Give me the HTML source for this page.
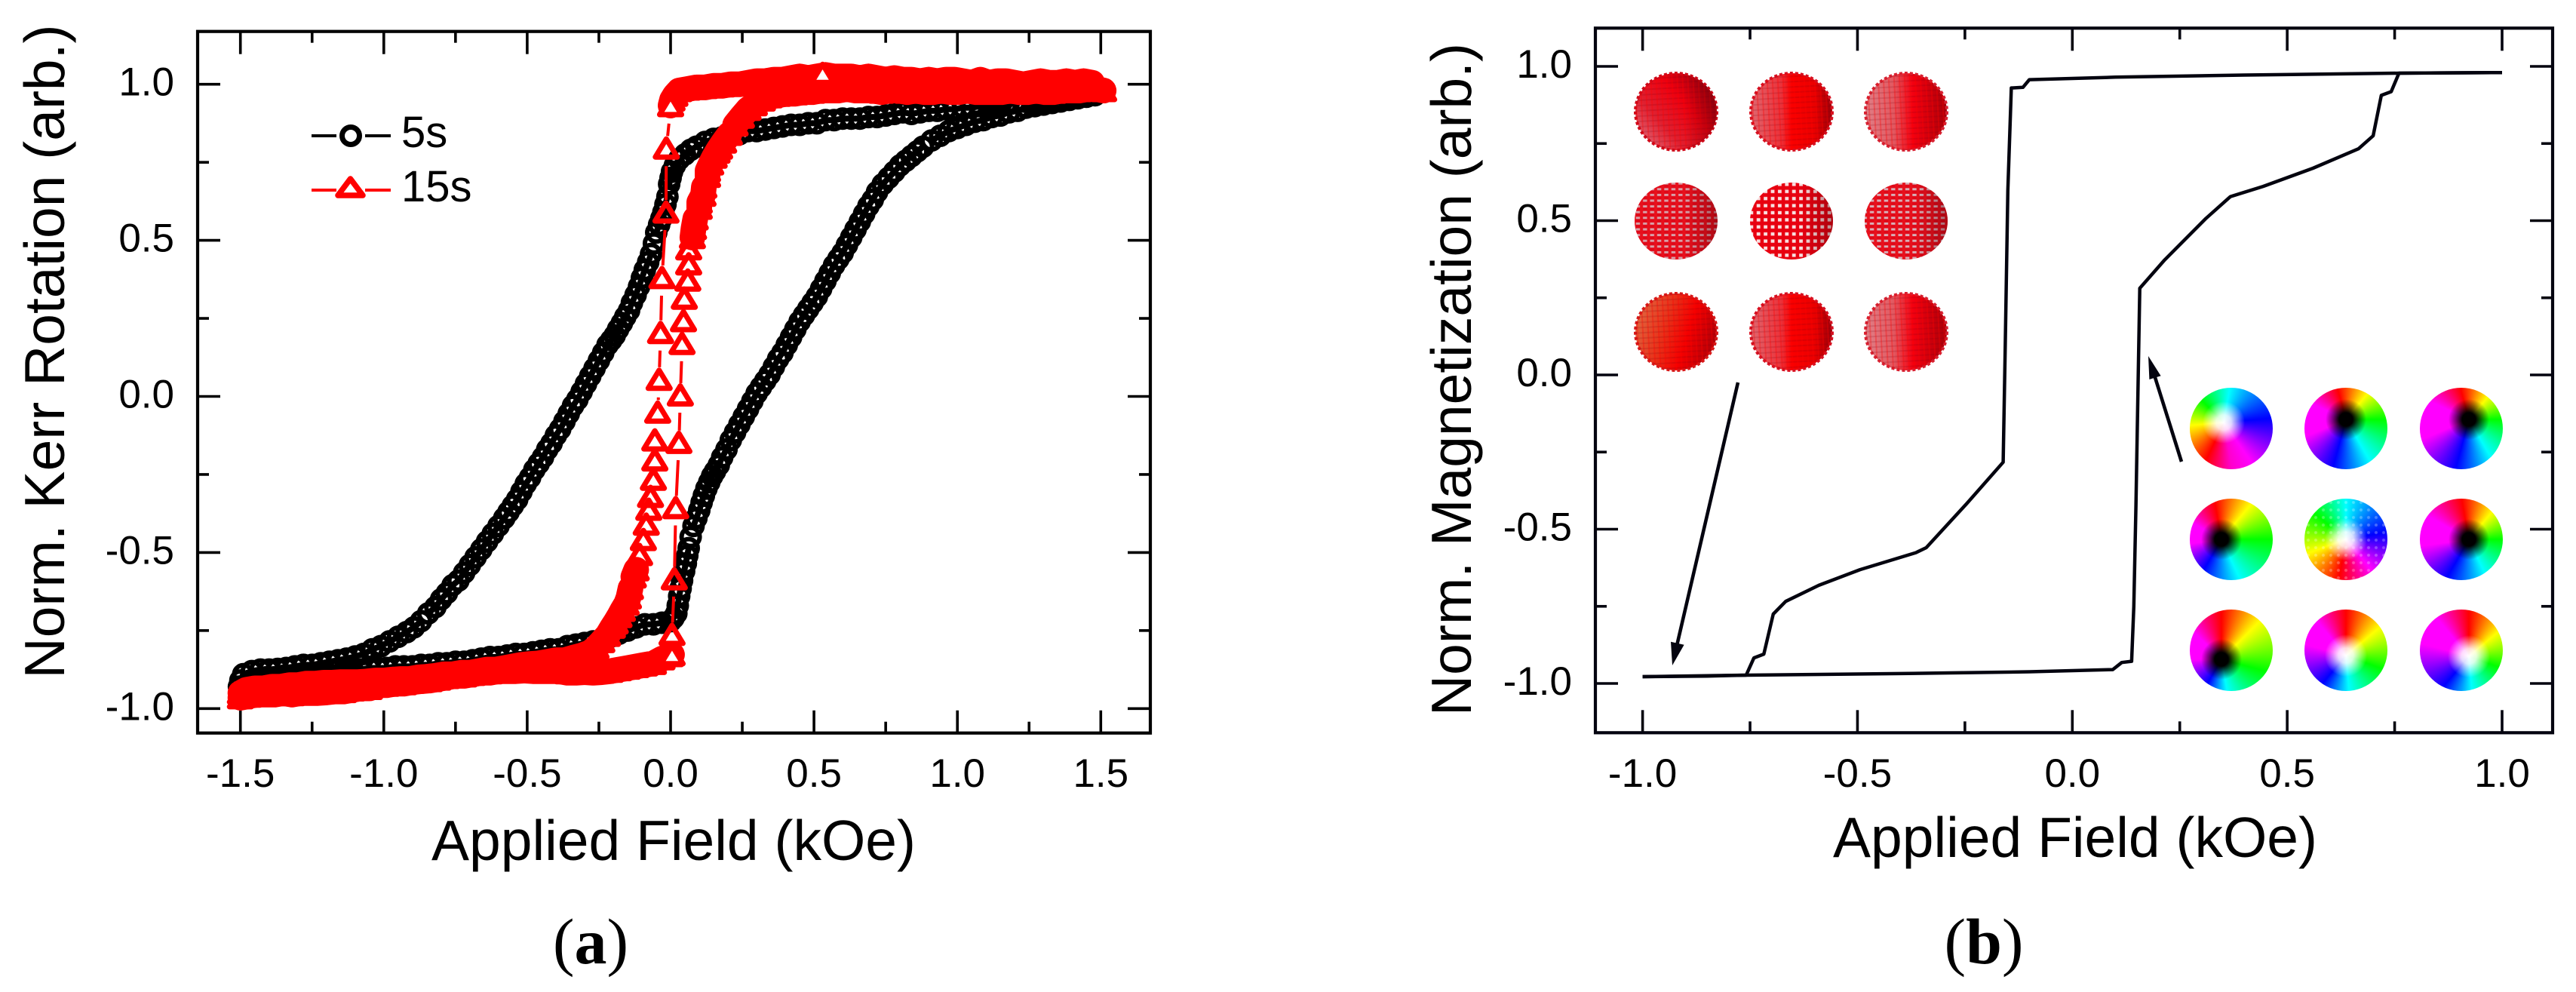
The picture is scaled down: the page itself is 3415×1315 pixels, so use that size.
<!DOCTYPE html>
<html lang="en">
<head>
<meta charset="utf-8">
<title>Kerr rotation and magnetization hysteresis loops</title>
<style>
html,body{margin:0;padding:0;background:#fff;}
#stage{position:relative;width:3415px;height:1315px;overflow:hidden;background:#fff;}
#figure{position:absolute;left:0;top:0;}
.disc{position:absolute;width:110px;height:108px;border-radius:50%;}
text{font-family:"Liberation Sans",sans-serif;fill:#000;}
.serif{font-family:"Liberation Serif",serif;}
</style>
</head>
<body>
<div id="stage">
<svg id="figure" width="3415" height="1315" viewBox="0 0 3415 1315" xmlns="http://www.w3.org/2000/svg">
  <defs>
    <pattern id="hatch" width="7" height="7" patternUnits="userSpaceOnUse" patternTransform="rotate(-3)">
      <rect width="7" height="7" fill="none"/>
      <line x1="0" y1="1.5" x2="7" y2="1.5" stroke="#700010" stroke-opacity=".16" stroke-width="2"/>
      <line x1="3" y1="0" x2="3" y2="7" stroke="#ff0000" stroke-opacity=".3" stroke-width="2"/>
    </pattern>
    <pattern id="gridWide" width="9.4" height="9.4" patternUnits="userSpaceOnUse">
      <line x1="0" y1="4.7" x2="9.4" y2="4.7" stroke="#e80010" stroke-width="5"/>
      <line x1="4.7" y1="0" x2="4.7" y2="9.4" stroke="#e80010" stroke-width="4.6"/>
    </pattern>
    <pattern id="gridTight" width="9.4" height="7.6" patternUnits="userSpaceOnUse">
      <line x1="0" y1="3.8" x2="9.4" y2="3.8" stroke="#e00818" stroke-width="4.6"/>
      <line x1="4.7" y1="0" x2="4.7" y2="7.6" stroke="#e8101c" stroke-width="4"/>
    </pattern>
    <linearGradient id="sphereA" x1="0.1" y1="0.9" x2="0.95" y2="0.2">
      <stop offset="0" stop-color="#e06070"/><stop offset=".3" stop-color="#e02030"/><stop offset=".65" stop-color="#ec0010"/><stop offset="1" stop-color="#a00010"/>
    </linearGradient>
    <linearGradient id="sphereB" x1="0" y1="0" x2="1" y2="0">
      <stop offset="0" stop-color="#e06870"/><stop offset=".38" stop-color="#ec3038"/><stop offset=".5" stop-color="#fa0000"/><stop offset=".78" stop-color="#ea0000"/><stop offset="1" stop-color="#980008"/>
    </linearGradient>
    <linearGradient id="sphereC" x1="0" y1="0" x2="1" y2="0">
      <stop offset="0" stop-color="#e08088"/><stop offset=".35" stop-color="#e25860"/><stop offset=".58" stop-color="#f40010"/><stop offset="1" stop-color="#a80008"/>
    </linearGradient>
    <linearGradient id="sphereD" x1="0" y1="0.3" x2="1" y2="0.6">
      <stop offset="0" stop-color="#e06840"/><stop offset=".38" stop-color="#e83018"/><stop offset=".65" stop-color="#f40000"/><stop offset="1" stop-color="#b00008"/>
    </linearGradient>
    <linearGradient id="shadeRight" x1="0" y1="0" x2="1" y2="0">
      <stop offset=".6" stop-color="#500008" stop-opacity="0"/><stop offset="1" stop-color="#500008" stop-opacity=".38"/>
    </linearGradient>
  </defs>

  <g id="panelA">
    <rect x="262" y="41.7" width="1263" height="930" fill="none" stroke="#000" stroke-width="4.2"/>
    <g id="aTicks"></g>
    <g id="aSeriesBlack"></g>
    <g id="aSeriesRed"></g>
    <text x="893" y="1140" font-size="75" text-anchor="middle">Applied Field (kOe)</text>
    <text transform="translate(85,466) rotate(-90)" font-size="75" text-anchor="middle">Norm. Kerr Rotation (arb.)</text>
    <g>
      <g>
        <line x1="413" y1="180" x2="446" y2="180" stroke="#000" stroke-width="4"/>
        <line x1="484" y1="180" x2="518" y2="180" stroke="#000" stroke-width="4"/>
        <circle cx="465" cy="180" r="11.5" fill="none" stroke="#000" stroke-width="7"/>
        <text x="532" y="195" font-size="58">5s</text>
      </g>
      <g>
        <line x1="413" y1="252" x2="446" y2="252" stroke="#f00" stroke-width="4"/>
        <line x1="484" y1="252" x2="518" y2="252" stroke="#f00" stroke-width="4"/>
        <path d="M464.5 237 L448 259 L481 259 Z" fill="none" stroke="#f00" stroke-width="7.5" stroke-linejoin="round"/>
        <text x="532" y="267" font-size="58">15s</text>
      </g>
    </g>
    <text class="serif" x="783" y="1277" font-size="86" text-anchor="middle">(<tspan font-weight="bold">a</tspan>)</text>
  </g>

  <g id="panelB">
    <rect x="2115" y="37.3" width="1269" height="934" fill="none" stroke="#04040f" stroke-width="4.2"/>
    <g id="bTicks"></g>
    <g id="bSeries"></g>
    <text x="2751" y="1136" font-size="75" text-anchor="middle">Applied Field (kOe)</text>
    <text transform="translate(1950,503) rotate(-90)" font-size="75" text-anchor="middle" textLength="892" lengthAdjust="spacingAndGlyphs">Norm. Magnetization (arb.)</text>

    <g>
      <g><ellipse cx="2222" cy="148" rx="54" ry="51" fill="url(#sphereA)" stroke="#d00818" stroke-width="4" stroke-dasharray="4 3"/><ellipse cx="2222" cy="148" rx="54" ry="51" fill="url(#hatch)"/><ellipse cx="2222" cy="148" rx="54" ry="51" fill="url(#shadeRight)"/></g>
      <g><ellipse cx="2375" cy="148" rx="54" ry="51" fill="url(#sphereB)" stroke="#d81020" stroke-width="4" stroke-dasharray="4 3"/><ellipse cx="2375" cy="148" rx="54" ry="51" fill="url(#hatch)"/></g>
      <g><ellipse cx="2527" cy="148" rx="54" ry="51" fill="url(#sphereC)" stroke="#d82030" stroke-width="4" stroke-dasharray="4 3"/><ellipse cx="2527" cy="148" rx="54" ry="51" fill="url(#hatch)"/></g>

      <g><ellipse cx="2222" cy="293" rx="55" ry="51" fill="#d8a0a8"/><ellipse cx="2222" cy="293" rx="55" ry="51" fill="url(#gridTight)"/><ellipse cx="2222" cy="293" rx="55" ry="51" fill="url(#shadeRight)"/></g>
      <g><ellipse cx="2375" cy="293" rx="55" ry="51" fill="#f8e0e0"/><ellipse cx="2375" cy="293" rx="55" ry="51" fill="url(#gridWide)"/><ellipse cx="2375" cy="293" rx="55" ry="51" fill="url(#shadeRight)"/></g>
      <g><ellipse cx="2527" cy="293" rx="55" ry="51" fill="#d8b0b8"/><ellipse cx="2527" cy="293" rx="55" ry="51" fill="url(#gridTight)"/><ellipse cx="2527" cy="293" rx="55" ry="51" fill="url(#shadeRight)"/></g>

      <g><ellipse cx="2222" cy="440" rx="54" ry="51" fill="url(#sphereD)" stroke="#d81818" stroke-width="4" stroke-dasharray="4 3"/><ellipse cx="2222" cy="440" rx="54" ry="51" fill="url(#hatch)"/></g>
      <g><ellipse cx="2375" cy="440" rx="54" ry="51" fill="url(#sphereB)" stroke="#d81020" stroke-width="4" stroke-dasharray="4 3"/><ellipse cx="2375" cy="440" rx="54" ry="51" fill="url(#hatch)"/></g>
      <g><ellipse cx="2527" cy="440" rx="54" ry="51" fill="url(#sphereC)" stroke="#d82030" stroke-width="4" stroke-dasharray="4 3"/><ellipse cx="2527" cy="440" rx="54" ry="51" fill="url(#hatch)"/></g>
    </g>

    <g>
      <line x1="2304" y1="507" x2="2222" y2="860" stroke="#04040f" stroke-width="4.6"/>
      <polygon points="2217,882 2232.6,854.8 2215,850.8" fill="#04040f"/>
    </g>
    <g>
      <line x1="2892" y1="612" x2="2855" y2="494" stroke="#04040f" stroke-width="4.6"/>
      <polygon points="2848,472 2864.6,498.2 2849.4,503" fill="#04040f"/>
    </g>
    <text class="serif" x="2630" y="1277" font-size="86" text-anchor="middle">(<tspan font-weight="bold">b</tspan>)</text>
  </g>
</svg>

<div class="disc" style="left:2903px;top:514px;background:radial-gradient(circle at 45px 46px,#fff 0,rgba(255,255,255,.85) 10px,rgba(255,255,255,0) 28px),conic-gradient(from 10deg at 45px 46px,#0ff 0,#00f 75deg,#f0f 135deg,#f0c 160deg,#f00 195deg,#ff0 255deg,#0f0 305deg,#0ff 360deg);"></div>
<div class="disc" style="left:3055px;top:514px;background:radial-gradient(circle at 55px 42px,#000 0,#000 9px,rgba(0,0,0,.6) 16px,rgba(0,0,0,0) 27px),conic-gradient(from -15deg at 55px 42px,#f00 0,#ff0 55deg,#0f0 105deg,#0ff 165deg,#00f 210deg,#f0f 262deg,#f0f 310deg,#f00 360deg);"></div>
<div class="disc" style="left:3208px;top:514px;background:radial-gradient(circle at 65px 42px,#000 0,#000 9px,rgba(0,0,0,.6) 16px,rgba(0,0,0,0) 27px),conic-gradient(from -15deg at 65px 42px,#f00 0,#ff0 55deg,#0f0 105deg,#0ff 165deg,#00f 210deg,#f0f 262deg,#f0f 310deg,#f00 360deg);"></div>
<div class="disc" style="left:2903px;top:661px;background:radial-gradient(circle at 42px 54px,#000 0,#000 9px,rgba(0,0,0,.6) 16px,rgba(0,0,0,0) 27px),conic-gradient(from -10deg at 42px 54px,#f00 0,#ff0 50deg,#0f0 100deg,#0ff 165deg,#00f 220deg,#f0f 272deg,#f0f 310deg,#f00 360deg);"></div>
<div class="disc" style="left:3055px;top:661px;background:radial-gradient(circle at 55px 54px,#fff 0,rgba(255,255,255,.85) 10px,rgba(255,255,255,0) 28px),radial-gradient(circle,rgba(255,255,255,.28) 0,rgba(255,255,255,.28) 1.5px,rgba(255,255,255,0) 2.5px) 0 0/10px 10px,conic-gradient(from 0deg at 55px 54px,#0ff 0,#00f 80deg,#f0f 140deg,#f00 190deg,#ff0 250deg,#0f0 310deg,#0ff 360deg);"></div>
<div class="disc" style="left:3208px;top:661px;background:radial-gradient(circle at 65px 54px,#000 0,#000 9px,rgba(0,0,0,.6) 16px,rgba(0,0,0,0) 27px),conic-gradient(from -10deg at 65px 54px,#f00 0,#ff0 50deg,#0f0 100deg,#0ff 165deg,#00f 220deg,#f0f 272deg,#f0f 310deg,#f00 360deg);"></div>
<div class="disc" style="left:2903px;top:808px;background:radial-gradient(circle at 42px 66px,#000 0,#000 9px,rgba(0,0,0,.6) 16px,rgba(0,0,0,0) 27px),conic-gradient(from 0deg at 42px 66px,#f00 0,#ff0 45deg,#0f0 105deg,#0ff 170deg,#00f 210deg,#f0f 270deg,#f0f 315deg,#f00 360deg);"></div>
<div class="disc" style="left:3055px;top:808px;background:radial-gradient(circle at 55px 61px,#fff 0,rgba(255,255,255,.85) 10px,rgba(255,255,255,0) 28px),conic-gradient(from 0deg at 55px 61px,#f00 0,#ff0 50deg,#0f0 110deg,#0ff 175deg,#00f 220deg,#f0f 285deg,#f0f 320deg,#f00 360deg);"></div>
<div class="disc" style="left:3208px;top:808px;background:radial-gradient(circle at 65px 62px,#fff 0,rgba(255,255,255,.85) 10px,rgba(255,255,255,0) 28px),conic-gradient(from 0deg at 65px 62px,#f00 0,#ff0 50deg,#0f0 110deg,#0ff 175deg,#00f 220deg,#f0f 285deg,#f0f 320deg,#f00 360deg);"></div>
</div>

<script>
/* ---------- Panel (a) axes data ---------- */
var aXMajorTicks = [-1.5, -1.0, -0.5, 0.0, 0.5, 1.0, 1.5];
var aXMinorTicks = [-1.25, -0.75, -0.25, 0.25, 0.75, 1.25];
var aYMajorTicks = [-1.0, -0.5, 0.0, 0.5, 1.0];
var aYMinorTicks = [-0.75, -0.25, 0.25, 0.75];
var aXTickLabels = ["-1.5", "-1.0", "-0.5", "0.0", "0.5", "1.0", "1.5"];
var aYTickLabels = ["-1.0", "-0.5", "0.0", "0.5", "1.0"];

/* ---------- Panel (b) axes data ---------- */
var bXMajorTicks = [-1.0, -0.5, 0.0, 0.5, 1.0];
var bXMinorTicks = [-0.75, -0.25, 0.25, 0.75];
var bYMajorTicks = [-1.0, -0.5, 0.0, 0.5, 1.0];
var bYMinorTicks = [-0.75, -0.25, 0.25, 0.75];
var bXTickLabels = ["-1.0", "-0.5", "0.0", "0.5", "1.0"];
var bYTickLabels = ["-1.0", "-0.5", "0.0", "0.5", "1.0"];

/* ---------- 5s series: sweep down from +1.5 kOe ---------- */
var field5sDown = [
1.50,1.47,1.44,1.41,1.38,1.35,1.32,1.29,1.26,1.23,
1.20,1.17,1.14,1.11,1.08,1.05,1.02,.99,.96,.93,
.90,.87,.84,.81,.78,.75,.72,.69,.66,.63,
.60,.57,.54,.51,.48,.45,.42,.39,.36,.33,
.30,.27,.24,.21,.18,.15,.12,.09,.07,.05,
.03,.015,.005,0,-.005,-.011,-.018,-.025,-.032,-.04,
-.05,-.058,-.068,-.078,-.09,-.10,-.11,-.122,-.135,-.145,
-.158,-.17,-.183,-.195,-.207,-.22,-.235,-.25,-.265,-.28,
-.295,-.31,-.325,-.34,-.355,-.37,-.385,-.40,-.415,-.43,
-.445,-.46,-.475,-.49,-.505,-.52,-.535,-.55,-.565,-.58,
-.60,-.62,-.64,-.66,-.68,-.70,-.72,-.74,-.76,-.78,
-.80,-.82,-.845,-.87,-.895,-.92,-.95,-.98,-1.01,-1.04,
-1.07,-1.10,-1.13,-1.16,-1.19,-1.22,-1.25,-1.28,-1.31,-1.34,
-1.37,-1.40,-1.43,-1.46,-1.49,-1.50,-1.505];
var kerr5sDown = [
.985,.975,.97,.965,.96,.955,.955,.95,.945,.945,
.94,.935,.935,.93,.93,.925,.925,.92,.92,.915,
.915,.91,.905,.91,.905,.90,.895,.895,.89,.89,
.89,.885,.885,.875,.875,.87,.87,.865,.86,.855,
.85,.85,.84,.835,.83,.825,.815,.80,.79,.775,
.76,.74,.72,.70,.68,.64,.615,.59,.57,.55,
.525,.49,.456,.43,.405,.38,.352,.325,.30,.275,
.255,.235,.215,.195,.18,.165,.14,.115,.09,.065,
.04,.015,-.01,-.03,-.055,-.08,-.105,-.125,-.15,-.17,
-.195,-.215,-.235,-.26,-.28,-.305,-.33,-.35,-.37,-.39,
-.415,-.44,-.465,-.49,-.515,-.54,-.565,-.59,-.605,-.63,
-.65,-.675,-.695,-.72,-.74,-.755,-.77,-.785,-.80,-.81,
-.825,-.833,-.84,-.845,-.85,-.855,-.86,-.86,-.865,-.87,
-.873,-.875,-.875,-.88,-.89,-.91,-.93];

/* ---------- 5s series: sweep up from -1.5 kOe ---------- */
var field5sUp = [
-1.50,-1.47,-1.44,-1.41,-1.38,-1.35,-1.32,-1.29,-1.26,-1.23,
-1.20,-1.17,-1.14,-1.11,-1.08,-1.05,-1.02,-.99,-.96,-.93,
-.90,-.87,-.84,-.81,-.78,-.75,-.72,-.69,-.66,-.63,
-.60,-.57,-.54,-.51,-.48,-.45,-.42,-.39,-.36,-.33,
-.30,-.27,-.24,-.21,-.18,-.15,-.12,-.09,-.06,-.03,
0,.01,.02,.025,.03,.035,.04,.047,.053,.058,
.063,.07,.08,.09,.10,.108,.116,.125,.135,.145,
.155,.168,.18,.195,.21,.225,.24,.255,.27,.285,
.30,.315,.33,.345,.36,.375,.39,.405,.42,.435,
.45,.465,.48,.495,.51,.525,.54,.555,.57,.585,
.60,.615,.63,.645,.66,.675,.69,.705,.72,.74,
.76,.78,.80,.82,.84,.86,.88,.91,.94,.97,
1.00,1.03,1.06,1.09,1.12,1.15,1.18,1.21,1.24,1.27,
1.30,1.33,1.36,1.39,1.42,1.45,1.48,1.51];
var kerr5sUp = [
-.945,-.925,-.91,-.90,-.90,-.895,-.895,-.89,-.89,-.885,
-.885,-.88,-.88,-.875,-.875,-.87,-.87,-.87,-.865,-.865,
-.865,-.86,-.86,-.855,-.855,-.85,-.85,-.845,-.84,-.835,
-.835,-.83,-.825,-.825,-.82,-.815,-.81,-.81,-.80,-.795,
-.79,-.785,-.78,-.77,-.76,-.75,-.74,-.73,-.73,-.725,
-.72,-.71,-.695,-.67,-.64,-.615,-.59,-.56,-.535,-.51,
-.486,-.45,-.415,-.39,-.365,-.34,-.318,-.295,-.275,-.255,
-.24,-.22,-.195,-.17,-.14,-.115,-.09,-.065,-.04,-.015,
.01,.03,.05,.07,.095,.12,.14,.165,.19,.215,
.24,.26,.28,.30,.32,.345,.37,.395,.42,.44,
.46,.485,.51,.535,.56,.585,.61,.63,.655,.68,
.70,.72,.74,.755,.77,.785,.80,.82,.835,.85,
.86,.87,.88,.885,.895,.90,.91,.915,.925,.93,
.935,.94,.945,.95,.955,.96,.965,.975];

/* ---------- 15s series: sweep down from +1.5 kOe ---------- */
var field15sDown = [
1.50,1.47,1.44,1.41,1.38,1.35,1.32,1.29,1.26,1.23,
1.20,1.17,1.14,1.11,1.08,1.05,1.02,.99,.96,.93,
.90,.87,.84,.81,.78,.75,.72,.69,.66,.63,
.60,.57,.54,.51,.48,.45,.42,.39,.36,.33,
.30,.27,.24,.21,.18,.15,.12,.09,.06,.03,
.015,.005,0,-.015,-.016,-.03,-.035,-.04,-.045,-.055,
-.055,-.06,-.07,-.076,-.085,-.095,-.108,-.12,-.13,-.14,
-.147,-.155,-.168,-.18,-.193,-.203,-.22,-.24,-.26,-.28,
-.31,-.34,-.37,-.40,-.43,-.46,-.49,-.52,-.55,-.58,
-.61,-.64,-.67,-.70,-.73,-.76,-.79,-.82,-.85,-.88,
-.91,-.94,-.97,-1.0,-1.03,-1.06,-1.09,-1.12,-1.15,-1.18,
-1.21,-1.24,-1.27,-1.30,-1.33,-1.36,-1.39,-1.42,-1.45,-1.48,
-1.50];
var kerr15sDown = [
.98,1.0,1.005,1.0,1.005,1.0,1.0,1.005,1.0,.995,
1.0,1.005,1.005,1.0,1.01,1.0,1.005,1.01,1.01,1.005,
1.01,1.005,1.01,1.01,1.015,1.01,1.015,1.02,1.015,1.02,
1.02,1.02,1.025,1.02,1.015,1.02,1.015,1.01,1.01,1.005,
1.005,1.0,.995,.995,.99,.99,.985,.985,.98,.975,
.96,.945,.927,.791,.586,.376,.2,.05,-.055,-.144,
-.208,-.27,-.325,-.366,-.414,-.463,-.511,-.56,-.583,-.62,
-.65,-.67,-.69,-.71,-.73,-.744,-.77,-.79,-.81,-.825,
-.835,-.842,-.85,-.85,-.855,-.86,-.862,-.865,-.87,-.875,
-.88,-.88,-.885,-.89,-.89,-.895,-.895,-.90,-.903,-.905,
-.91,-.91,-.912,-.915,-.915,-.918,-.92,-.92,-.92,-.922,
-.922,-.925,-.925,-.93,-.93,-.935,-.935,-.94,-.94,-.945,
-.955];

/* ---------- 15s series: sweep up from -1.5 kOe ---------- */
var field15sUp = [
-1.50,-1.47,-1.44,-1.41,-1.38,-1.35,-1.32,-1.29,-1.26,-1.23,
-1.20,-1.17,-1.14,-1.11,-1.08,-1.05,-1.02,-.99,-.96,-.93,
-.90,-.87,-.84,-.81,-.78,-.75,-.72,-.69,-.66,-.63,
-.60,-.57,-.54,-.51,-.48,-.45,-.42,-.39,-.36,-.33,
-.30,-.27,-.24,-.21,-.18,-.15,-.12,-.09,-.06,-.03,
0,.005,.005,.013,.018,.029,.034,.04,.045,.048,
.06,.063,.063,.076,.08,.086,.10,.10,.113,.116,
.129,.129,.14,.152,.162,.171,.185,.205,.225,.247,
.27,.292,.32,.345,.375,.405,.435,.465,.495,.525,
.555,.585,.615,.645,.675,.705,.735,.765,.795,.825,
.855,.885,.915,.945,.975,1.005,1.035,1.065,1.095,1.125,
1.155,1.185,1.215,1.245,1.275,1.305,1.335,1.365,1.395,1.425,
1.455,1.485,1.51];
var kerr15sUp = [
-.97,-.965,-.96,-.96,-.96,-.955,-.96,-.955,-.955,-.955,
-.953,-.95,-.95,-.945,-.94,-.94,-.93,-.93,-.925,-.925,
-.92,-.917,-.915,-.91,-.905,-.90,-.90,-.895,-.89,-.89,
-.885,-.885,-.885,-.883,-.885,-.885,-.885,-.885,-.89,-.89,
-.888,-.89,-.888,-.885,-.88,-.875,-.87,-.865,-.86,-.845,
-.835,-.832,-.767,-.589,-.361,-.152,0,.165,.238,.31,
.368,.42,.468,.504,.533,.564,.598,.617,.64,.666,
.70,.718,.74,.762,.778,.791,.81,.835,.865,.89,
.915,.93,.945,.955,.96,.965,.965,.97,.97,.975,
.975,.975,.98,.975,.975,.975,.97,.975,.975,.97,
.975,.97,.97,.975,.97,.97,.975,.97,.97,.97,
.97,.975,.97,.97,.975,.97,.97,.975,.975,.975,
.98,.98,.975];

/* 15s points whose open marker stays visible on top of the dense band */
var field15sOpen = [.53, .005, 0];
var kerr15sOpen = [1.03, -.832, .927];

/* ---------- Panel (b) simulated loop ---------- */
var fieldSimDown = [1.0,.76,.40,.10,-.10,-.115,-.142,-.15,-.156,-.161,-.245,-.34,-.364,-.494,-.59,-.667,-.696,-.718,-.741,-.759,-.85,-1.0];
var magSimDown = [.98,.978,.972,.965,.957,.932,.93,.598,.10,-.283,-.416,-.56,-.576,-.631,-.682,-.734,-.775,-.905,-.917,-.973,-.976,-.978];
var fieldSimUp = [-1.0,-.76,-.40,-.10,.094,.115,.138,.143,.148,.157,.215,.31,.368,.444,.56,.666,.70,.719,.742,.76,.85,1.0];
var magSimUp = [-.978,-.973,-.968,-.962,-.955,-.932,-.928,-.75,-.426,.281,.373,.506,.578,.611,.67,.733,.775,.906,.918,.978,.979,.98];

var NS = 'http://www.w3.org/2000/svg';

function svgEl(tag, attrs, parent) {
  var node = document.createElementNS(NS, tag);
  for (var key in attrs) { node.setAttribute(key, attrs[key]); }
  parent.appendChild(node);
  return node;
}

/* Axis functions */
function aX(v) { return 889 + 380.2 * v; }
function aY(v) { return 525.5 - 413.8 * v; }
function bX(v) { return 2747.3 + 569.7 * v; }
function bY(v) { return 497 - 409 * v; }

function drawTicks(group, xFn, yFn, box, xMajor, xMinor, yMajor, yMinor, xLabels, yLabels, yLabelEnd, color, prefix) {
  function vTick(v, len) {
    [[box.bottom, box.bottom - len], [box.top, box.top + len]].forEach(function (p) {
      var t = svgEl('line', { x1: xFn(v), x2: xFn(v), y1: p[0], y2: p[1], stroke: color, 'stroke-width': 3.6 }, group);
      
      
    });
  }
  function hTick(v, len) {
    [[box.left, box.left + len], [box.right, box.right - len]].forEach(function (p) {
      var t = svgEl('line', { y1: yFn(v), y2: yFn(v), x1: p[0], x2: p[1], stroke: color, 'stroke-width': 3.6 }, group);
      
      
    });
  }
  xMajor.forEach(function (v) { vTick(v, 30); });
  xMinor.forEach(function (v) { vTick(v, 15); });
  yMajor.forEach(function (v) { hTick(v, 30); });
  yMinor.forEach(function (v) { hTick(v, 15); });
  xMajor.forEach(function (v, i) {
    var t = svgEl('text', { x: xFn(v), y: 1043, 'font-size': 53, 'text-anchor': 'middle' }, group);
    t.textContent = xLabels[i];
    
    
  });
  yMajor.forEach(function (v, i) {
    var t = svgEl('text', { x: yLabelEnd, y: yFn(v) + 15, 'font-size': 53, 'text-anchor': 'end' }, group);
    t.textContent = yLabels[i];
    
    
  });
}

/* Connector segments stop short of markers, as the plotting package does */
function drawConnector(group, xs, ys, gapStart, gapEnd, color, width, name) {
  var d = '';
  for (var i = 0; i + 1 < xs.length; i++) {
    var x1 = aX(xs[i]), y1 = aY(ys[i]), x2 = aX(xs[i + 1]), y2 = aY(ys[i + 1]);
    var len = Math.hypot(x2 - x1, y2 - y1);
    if (len > gapStart + gapEnd + 2) {
      var ux = (x2 - x1) / len, uy = (y2 - y1) / len;
      var upward = uy < 0;
      var a = upward ? gapStart * 0.8 : gapStart;
      var b = upward ? gapEnd * 1.2 : gapEnd;
      d += 'M' + (x1 + ux * a).toFixed(1) + ' ' + (y1 + uy * a).toFixed(1) + 'L' + (x2 - ux * b).toFixed(1) + ' ' + (y2 - uy * b).toFixed(1);
    }
  }
  var p = svgEl('path', { d: d, fill: 'none', stroke: color, 'stroke-width': width }, group);
  
  
}

/* Where markers pile up they merge; draw that merged body along closely spaced points */
function drawMergedBand(group, xs, ys, maxSpacing, color, width, shiftY, name) {
  var d = '';
  for (var i = 0; i + 1 < xs.length; i++) {
    var x1 = aX(xs[i]), y1 = aY(ys[i]), x2 = aX(xs[i + 1]), y2 = aY(ys[i + 1]);
    if (Math.hypot(x2 - x1, y2 - y1) <= maxSpacing) {
      d += 'M' + x1.toFixed(1) + ' ' + (y1 + shiftY).toFixed(1) + 'L' + x2.toFixed(1) + ' ' + (y2 + shiftY).toFixed(1);
    }
  }
  var p = svgEl('path', { d: d, fill: 'none', stroke: color, 'stroke-width': width, 'stroke-linecap': 'round' }, group);
  
  
}

function drawRings(group, xs, ys, name) {
  for (var i = 0; i < xs.length; i++) {
    var c = svgEl('circle', { cx: aX(xs[i]).toFixed(1), cy: aY(ys[i]).toFixed(1), r: 12, fill: 'none', stroke: '#000', 'stroke-width': 6 }, group);
    
    
  }
}

function drawTriangles(group, xs, ys, holeFill, name) {
  for (var i = 0; i < xs.length; i++) {
    var x = aX(xs[i]), y = aY(ys[i]);
    var t = svgEl('path', {
      d: 'M' + x.toFixed(1) + ' ' + (y - 14).toFixed(1) +
         'L' + (x + 14.5).toFixed(1) + ' ' + (y + 10).toFixed(1) +
         'L' + (x - 14.5).toFixed(1) + ' ' + (y + 10).toFixed(1) + 'Z',
      fill: holeFill, stroke: '#f00', 'stroke-width': 7, 'stroke-linejoin': 'round'
    }, group);
    
    
  }
}

function polyPath(xs, ys, xFn, yFn) {
  return xs.map(function (v, i) {
    return (i ? 'L' : 'M') + xFn(v).toFixed(1) + ' ' + yFn(ys[i]).toFixed(1);
  }).join('');
}

drawTicks(document.getElementById('aTicks'), aX, aY, { left: 262, right: 1525, top: 41.7, bottom: 971.7 },
  aXMajorTicks, aXMinorTicks, aYMajorTicks, aYMinorTicks, aXTickLabels, aYTickLabels, 231, '#000', 'plot-a');
drawTicks(document.getElementById('bTicks'), bX, bY, { left: 2115, right: 3384, top: 37.3, bottom: 971.3 },
  bXMajorTicks, bXMinorTicks, bYMajorTicks, bYMinorTicks, bXTickLabels, bYTickLabels, 2084, '#04040f', 'plot-b');

var blackGroup = document.getElementById('aSeriesBlack');
drawConnector(blackGroup, field5sDown, kerr5sDown, 17, 17, '#000', 3.5, 'series-5s-line-down');
drawConnector(blackGroup, field5sUp, kerr5sUp, 17, 17, '#000', 3.5, 'series-5s-line-up');
drawMergedBand(blackGroup, field5sDown, kerr5sDown, 14, '#000', 8, 0, 'series-5s-band-down');
drawMergedBand(blackGroup, field5sUp, kerr5sUp, 14, '#000', 8, 0, 'series-5s-band-up');
drawRings(blackGroup, field5sDown, kerr5sDown, 'series-5s-point-down');
drawRings(blackGroup, field5sUp, kerr5sUp, 'series-5s-point-up');

var redGroup = document.getElementById('aSeriesRed');
drawConnector(redGroup, field15sDown, kerr15sDown, 22, 18, '#f00', 4, 'series-15s-line-down');
drawConnector(redGroup, field15sUp, kerr15sUp, 22, 18, '#f00', 4, 'series-15s-line-up');
drawMergedBand(redGroup, field15sDown, kerr15sDown, 14, '#f00', 34, -2, 'series-15s-band-down');
drawMergedBand(redGroup, field15sUp, kerr15sUp, 14, '#f00', 34, -2, 'series-15s-band-up');
drawTriangles(redGroup, field15sDown, kerr15sDown, 'none', 'series-15s-point-down');
drawTriangles(redGroup, field15sUp, kerr15sUp, 'none', 'series-15s-point-up');
drawTriangles(redGroup, field15sOpen, kerr15sOpen, '#fff', 'series-15s-point-open');

var simGroup = document.getElementById('bSeries');
var simDown = svgEl('path', { d: polyPath(fieldSimDown, magSimDown, bX, bY), fill: 'none', stroke: '#04040f', 'stroke-width': 4.5, 'stroke-linejoin': 'round' }, simGroup);


var simUp = svgEl('path', { d: polyPath(fieldSimUp, magSimUp, bX, bY), fill: 'none', stroke: '#04040f', 'stroke-width': 4.5, 'stroke-linejoin': 'round' }, simGroup);


</script>
</body>
</html>
